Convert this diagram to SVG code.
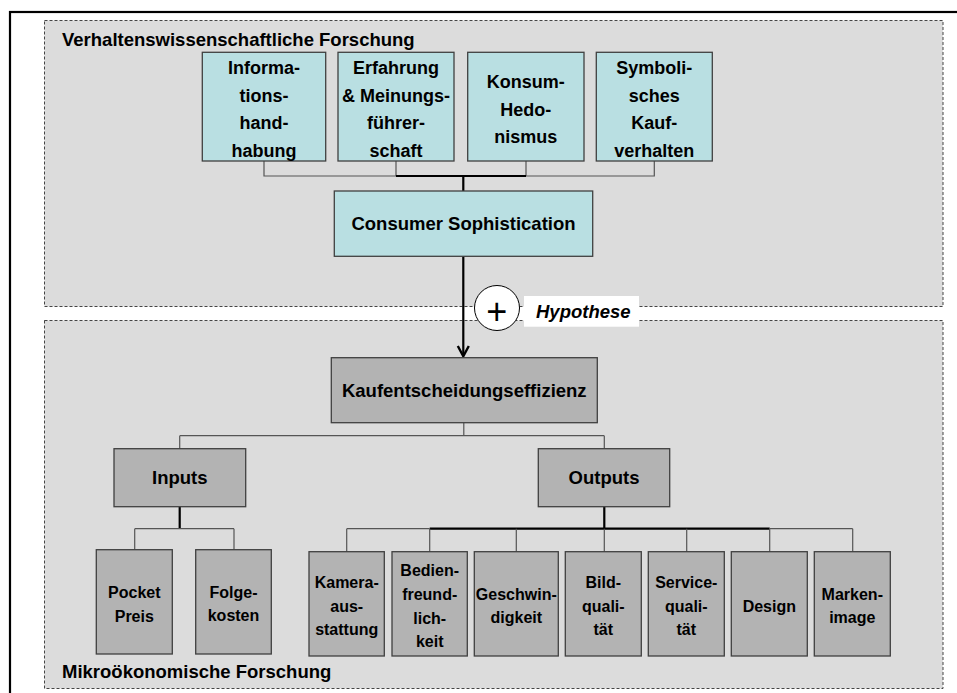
<svg xmlns="http://www.w3.org/2000/svg" width="957" height="693" viewBox="0 0 957 693">
<style>
text{font-family:"Liberation Sans",Arial,sans-serif;font-weight:bold;fill:#000;}
.t18{font-size:18px;text-anchor:middle;}
.h18{font-size:18.5px;text-anchor:middle;}
.t16{font-size:16px;text-anchor:middle;}
.lbl{font-size:18.5px;}
.region{fill:#dcdcdc;stroke:#444;stroke-width:1;stroke-dasharray:3,2;}
.teal{fill:#b9dfe2;stroke:#404040;stroke-width:1.3;}
.gray{fill:#b3b3b3;stroke:#404040;stroke-width:1.3;}
.thin{fill:none;stroke:#555;stroke-width:1.2;}
.thick{fill:none;stroke:#000;stroke-width:2.2;}
</style>
<rect x="0" y="0" width="957" height="693" fill="#fff"/>
<rect x="10" y="12" width="960" height="700" fill="none" stroke="#000" stroke-width="2.2"/>
<g id="region-top">
<rect class="region" x="44.5" y="20.5" width="898.5" height="286"/>
<text class="lbl" x="62" y="45.5">Verhaltenswissenschaftliche Forschung</text>
</g>
<g id="region-bottom">
<rect class="region" x="44.5" y="320.5" width="898.5" height="368"/>
<text class="lbl" x="62" y="677.5">Mikroökonomische Forschung</text>
</g>
<g id="connectors">
<path class="thin" d="M264 161V176H396M526 176H654.3V161M396 161V176M526 161V176"/>
<path class="thick" d="M396 176H526M463.3 176V191"/>
<path class="thick" d="M463.3 256.3V355"/>
<path d="M457.8 346L463.3 356.3L468.8 346" fill="none" stroke="#000" stroke-width="2.4" stroke-linejoin="miter"/>
<path class="thin" d="M463.8 422.7V435.7M179.7 435.7H604.3M179.7 435.7V448.7M604.3 435.7V448.7"/>
<path class="thick" d="M179.7 506.7V528.7"/>
<path class="thin" d="M134.7 528.7H234M134.7 528.7V549.7M234 528.7V549.7"/>
<path class="thick" d="M604.3 506.7V528.7M429.7 528.7H769.7"/>
<path class="thin" d="M346.7 528.7H429.7M769.7 528.7H852.7M346.7 528.7V551.7M429.7 528.7V551.7M516.3 528.7V551.7M604.3 528.7V551.7M686.7 528.7V551.7M769.7 528.7V551.7M852.7 528.7V551.7"/>
</g>
<g id="hypothese">
<circle cx="497" cy="308" r="22.5" fill="#fff" stroke="#000" stroke-width="1"/>
<text x="496.7" y="324" style="font-size:36px;font-weight:normal;text-anchor:middle">+</text>
<rect x="524" y="296" width="115" height="30.7" fill="#fff"/>
<text x="536" y="317.7" style="font-size:18.5px;font-style:italic">Hypothese</text>
</g>
<g id="n-info">
<rect class="teal" x="202.3" y="52.3" width="123.4" height="108.7"/>
<text class="t18" x="264" y="74">Informa-</text>
<text class="t18" x="264" y="101.5">tions-</text>
<text class="t18" x="264" y="129">hand-</text>
<text class="t18" x="264" y="156.5">habung</text>
</g>
<g id="n-erfahrung">
<rect class="teal" x="338" y="52.3" width="116" height="108.7"/>
<text class="t18" x="396" y="74">Erfahrung</text>
<text class="t18" x="396" y="101.5">&amp; Meinungs-</text>
<text class="t18" x="396" y="129">führer-</text>
<text class="t18" x="396" y="156.5">schaft</text>
</g>
<g id="n-konsum">
<rect class="teal" x="467.7" y="52.3" width="116.3" height="108.7"/>
<text class="t18" x="525.8" y="88.3">Konsum-</text>
<text class="t18" x="525.8" y="115.7">Hedo-</text>
<text class="t18" x="525.8" y="143.3">nismus</text>
</g>
<g id="n-symbol">
<rect class="teal" x="596.3" y="52.3" width="116" height="108.7"/>
<text class="t18" x="654.3" y="74">Symboli-</text>
<text class="t18" x="654.3" y="101.5">sches</text>
<text class="t18" x="654.3" y="129">Kauf-</text>
<text class="t18" x="654.3" y="156.5">verhalten</text>
</g>
<g id="n-consumer">
<rect class="teal" x="334.3" y="191" width="258.4" height="65.3"/>
<text class="h18" x="463.5" y="230">Consumer Sophistication</text>
</g>
<g id="n-kauf">
<rect class="gray" x="331.3" y="357.7" width="266" height="65"/>
<text class="h18" x="464.3" y="397.3">Kaufentscheidungseffizienz</text>
</g>
<g id="n-inputs">
<rect class="gray" x="114" y="448.7" width="131.7" height="58"/>
<text class="h18" x="179.8" y="484.3">Inputs</text>
</g>
<g id="n-outputs">
<rect class="gray" x="538.3" y="448.7" width="131.4" height="58"/>
<text class="h18" x="604" y="484.3">Outputs</text>
</g>
<g id="n-pocket">
<rect class="gray" x="96.3" y="549.7" width="76" height="104.3"/>
<text class="t16" x="134.3" y="597.7">Pocket</text>
<text class="t16" x="134.3" y="621.7">Preis</text>
</g>
<g id="n-folge">
<rect class="gray" x="195.7" y="549.7" width="75.6" height="104.3"/>
<text class="t16" x="233.5" y="597.7">Folge-</text>
<text class="t16" x="233.5" y="621.3">kosten</text>
</g>
<g id="n-kamera">
<rect class="gray" x="309" y="551.7" width="75.3" height="104.3"/>
<text class="t16" x="346.7" y="588.3">Kamera-</text>
<text class="t16" x="346.7" y="611.7">aus-</text>
<text class="t16" x="346.7" y="635">stattung</text>
</g>
<g id="n-bedien">
<rect class="gray" x="392" y="551.7" width="75.3" height="104.3"/>
<text class="t16" x="429.7" y="575.7">Bedien-</text>
<text class="t16" x="429.7" y="600">freund-</text>
<text class="t16" x="429.7" y="624">lich-</text>
<text class="t16" x="429.7" y="647.3">keit</text>
</g>
<g id="n-geschwin">
<rect class="gray" x="474.3" y="551.7" width="84" height="104.3"/>
<text class="t16" x="516.3" y="600">Geschwin-</text>
<text class="t16" x="516.3" y="623.3">digkeit</text>
</g>
<g id="n-bild">
<rect class="gray" x="565.3" y="551.7" width="76" height="104.3"/>
<text class="t16" x="603.3" y="588.3">Bild-</text>
<text class="t16" x="603.3" y="611.7">quali-</text>
<text class="t16" x="603.3" y="635">tät</text>
</g>
<g id="n-service">
<rect class="gray" x="648.3" y="551.7" width="76" height="104.3"/>
<text class="t16" x="686.3" y="588.3">Service-</text>
<text class="t16" x="686.3" y="611.7">quali-</text>
<text class="t16" x="686.3" y="635">tät</text>
</g>
<g id="n-design">
<rect class="gray" x="731.3" y="551.7" width="76" height="104.3"/>
<text class="t16" x="769.3" y="611.7">Design</text>
</g>
<g id="n-marken">
<rect class="gray" x="814.3" y="551.7" width="76" height="104.3"/>
<text class="t16" x="852.3" y="600">Marken-</text>
<text class="t16" x="852.3" y="623.3">image</text>
</g>
</svg>
